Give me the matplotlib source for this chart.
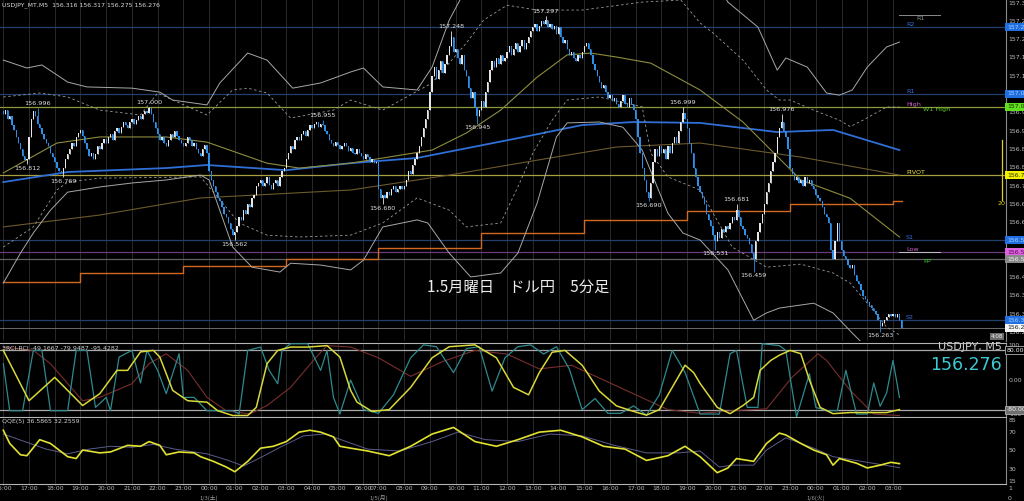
import matplotlib
matplotlib.use("Agg")
import matplotlib.pyplot as plt
import matplotlib.transforms as mtrans
import numpy as np

plt.rcParams['font.family'] = ['DejaVu Sans']
JP = ['Noto Sans CJK JP', 'DejaVu Sans']

W, H = 1024, 501

# ---------------- data ----------------
hour_labels = ["16:00", "17:00", "18:00", "19:00", "20:00", "21:00", "22:00", "23:00",
               "00:00", "01:00", "02:00", "03:00", "04:00", "05:00", "06:00",
               "07:00", "08:00", "09:00", "10:00", "11:00", "12:00", "13:00", "14:00",
               "15:00", "16:00", "17:00", "18:00", "19:00", "20:00", "21:00", "22:00",
               "23:00", "00:00", "01:00", "02:00", "03:00"]
hour_bar = [0, 12, 24, 36, 48, 60, 72, 84, 96, 108, 120, 132, 144, 156, 168,
            175, 187, 199, 211, 223, 235, 247, 259, 271, 283, 295, 307, 319, 331,
            343, 355, 367, 379, 391, 403, 415]
date_labels = ["1/3(土)", "1/5(月)", "1/6(火)"]
date_bar = [96, 175, 379]

first_open = 156.985
close_prices = [
    156.975, 156.990, 156.960, 156.970, 156.940, 156.925, 156.900, 156.880, 156.860, 156.840, 156.825, 156.830,
    156.900, 156.960, 156.985, 156.970, 156.945, 156.930, 156.910, 156.895, 156.880, 156.870, 156.850, 156.835,
    156.820, 156.800, 156.790, 156.785, 156.800, 156.830, 156.845, 156.860, 156.880, 156.870, 156.900, 156.915,
    156.925, 156.905, 156.880, 156.860, 156.840, 156.850, 156.830, 156.845, 156.870, 156.860, 156.880, 156.895,
    156.880, 156.900, 156.910, 156.890, 156.920, 156.930, 156.915, 156.935, 156.950, 156.940, 156.930, 156.950,
    156.960, 156.945, 156.955, 156.970, 156.960, 156.975, 156.985, 156.980, 156.995, 156.975, 156.950, 156.930,
    156.910, 156.890, 156.900, 156.880, 156.870, 156.890, 156.910, 156.900, 156.920, 156.905, 156.890, 156.880,
    156.870, 156.880, 156.900, 156.890, 156.870, 156.880, 156.860, 156.850, 156.840, 156.860, 156.875, 156.850,
    156.790, 156.760, 156.740, 156.720, 156.700, 156.690, 156.670, 156.650, 156.640, 156.620, 156.600, 156.580,
    156.590, 156.610, 156.640, 156.630, 156.660, 156.650, 156.680, 156.670, 156.700, 156.710, 156.740, 156.750,
    156.760, 156.740, 156.750, 156.770, 156.745, 156.730, 156.750, 156.760, 156.740, 156.770, 156.790, 156.800,
    156.830, 156.850, 156.870, 156.860, 156.890, 156.900, 156.890, 156.910, 156.920, 156.905, 156.925, 156.940,
    156.930, 156.945, 156.950, 156.935, 156.945, 156.940, 156.920, 156.910, 156.890, 156.880, 156.870, 156.885,
    156.875, 156.860, 156.870, 156.880, 156.870, 156.855, 156.865, 156.850, 156.845, 156.860, 156.850, 156.840,
    156.830, 156.845, 156.835, 156.820, 156.830, 156.815, 156.820,
    156.730, 156.700, 156.710, 156.700, 156.720, 156.710, 156.730, 156.740, 156.720, 156.730, 156.740, 156.730,
    156.740, 156.760, 156.790, 156.780, 156.810, 156.830, 156.850, 156.870, 156.900, 156.930, 156.960, 156.990,
    157.050, 157.100, 157.130, 157.090, 157.120, 157.150, 157.110, 157.140, 157.170, 157.200, 157.230, 157.180,
    157.190, 157.160, 157.140, 157.170, 157.120, 157.100, 157.060, 157.030, 157.050, 157.000, 156.970, 156.990,
    157.020, 157.000, 157.050, 157.080, 157.120, 157.150, 157.130, 157.160, 157.140, 157.170, 157.150, 157.160,
    157.180, 157.200, 157.170, 157.190, 157.210, 157.180, 157.200, 157.220, 157.190, 157.210, 157.230, 157.250,
    157.260, 157.270, 157.250, 157.265, 157.280, 157.270, 157.285, 157.260, 157.270, 157.255, 157.265, 157.240,
    157.260, 157.230, 157.210, 157.220, 157.190, 157.170, 157.180, 157.160, 157.150, 157.170, 157.160, 157.180,
    157.200, 157.210, 157.190, 157.170, 157.140, 157.120, 157.100, 157.080, 157.060, 157.070, 157.050, 157.030,
    157.040, 157.020, 157.030, 157.010, 157.000, 157.020, 157.040, 157.010, 157.000, 157.030, 157.010, 156.990,
    156.960, 156.900, 156.850, 156.800, 156.760, 156.720, 156.700, 156.750, 156.820, 156.860, 156.840, 156.870,
    156.850, 156.860, 156.830, 156.870, 156.850, 156.880, 156.900, 156.880, 156.920, 156.950, 156.980, 156.960,
    156.930, 156.880, 156.850, 156.800, 156.770, 156.740, 156.720, 156.700, 156.680, 156.650, 156.630, 156.610,
    156.580, 156.560, 156.590, 156.570, 156.600, 156.590, 156.610, 156.600, 156.620, 156.640, 156.630, 156.660,
    156.640, 156.610, 156.600, 156.580, 156.570, 156.550, 156.520, 156.500, 156.560, 156.590, 156.620, 156.650,
    156.680, 156.720, 156.750, 156.790, 156.820, 156.850, 156.900, 156.930, 156.950, 156.920, 156.900, 156.860,
    156.800, 156.780, 156.760, 156.770, 156.750, 156.760, 156.740, 156.770, 156.750, 156.760, 156.740, 156.730,
    156.710, 156.700, 156.690, 156.670, 156.650, 156.640, 156.620, 156.530, 156.500, 156.560, 156.620, 156.560,
    156.530, 156.510, 156.500, 156.480, 156.470, 156.480, 156.450, 156.430, 156.420, 156.400, 156.380, 156.370,
    156.360, 156.350, 156.340, 156.330, 156.320, 156.300, 156.280, 156.290, 156.300, 156.310, 156.320, 156.315,
    156.320, 156.310, 156.320, 156.300, 156.276,
]

# labelled swing highs / lows: (bar, price, kind)
swing_bar = [11, 16, 28, 68, 108, 149, 177, 209, 221, 253, 301, 317, 332, 342, 350, 363, 409]
swing_price = [156.812, 156.996, 156.769, 157.000, 156.562, 156.955, 156.680, 157.248, 156.945,
               157.297, 156.690, 156.999, 156.531, 156.681, 156.459, 156.976, 156.263]
swing_kind = ["L", "H", "L", "H", "L", "H", "L", "H", "L", "H", "L", "H", "L", "H", "L", "H", "L"]

# moving averages / bands  (bar, price)
ma_blue_bar = [0, 30, 76, 95, 132, 162, 193, 240, 270, 294, 325, 361, 387, 418]
ma_blue_val = [156.753, 156.786, 156.799, 156.809, 156.792, 156.815, 156.832, 156.897, 156.940,
               156.950, 156.947, 156.917, 156.924, 156.858]
ma_olive_bar = [0, 25, 45, 76, 95, 123, 138, 162, 200, 216, 232, 249, 263, 274, 286, 302, 325, 345, 372, 395, 418]
ma_olive_val = [156.783, 156.881, 156.901, 156.901, 156.884, 156.815, 156.799, 156.815, 156.858, 156.914,
                156.989, 157.097, 157.170, 157.176, 157.163, 157.143, 157.055, 156.950, 156.760, 156.700, 156.573]
ma_brown_bar = [0, 45, 92, 162, 208, 255, 286, 325, 372, 418]
ma_brown_val = [156.606, 156.645, 156.701, 156.727, 156.776, 156.832, 156.868, 156.881, 156.835, 156.776]
step_start_bar = [0, 36, 84, 132, 175, 223, 271, 319, 367, 415]
step_val = [156.425, 156.455, 156.478, 156.501, 156.537, 156.586, 156.629, 156.658, 156.681, 156.691]

bb_up_bar = [0, 11, 18, 30, 39, 60, 73, 79, 95, 101, 114, 123, 135, 148, 162, 168, 177, 193, 200, 208,
             213, 225, 250, 280, 310, 333, 338, 352, 361, 365, 375, 384, 390, 396, 403, 412, 418]
bb_up_val = [157.153, 157.127, 157.137, 157.081, 157.065, 157.061, 157.048, 157.022, 157.006, 157.078,
             157.176, 157.153, 157.061, 157.078, 157.114, 157.127, 157.065, 157.055, 157.130, 157.284,
             157.350, 157.480, 157.600, 157.620, 157.550, 157.400, 157.343, 157.261, 157.120, 157.160,
             157.130, 157.045, 157.038, 157.055, 157.130, 157.196, 157.212]
bb_lo_bar = [0, 8, 14, 22, 30, 45, 60, 76, 92, 96, 107, 116, 129, 134, 148, 162, 168, 177, 193, 198,
             208, 218, 232, 240, 249, 258, 263, 278, 289, 298, 310, 317, 325, 338, 350, 356, 362, 378,
             387, 396, 404, 418]
bb_lo_val = [156.422, 156.520, 156.586, 156.661, 156.720, 156.737, 156.750, 156.760, 156.776, 156.760,
             156.540, 156.474, 156.458, 156.487, 156.481, 156.465, 156.497, 156.606, 156.629, 156.619,
             156.520, 156.442, 156.455, 156.520, 156.684, 156.901, 156.947, 156.950, 156.933, 156.858,
             156.651, 156.586, 156.563, 156.465, 156.300, 156.324, 156.340, 156.356, 156.324, 156.258,
             156.202, 156.104]
bbd_up_bar = [0, 17, 30, 45, 64, 72, 79, 95, 107, 114, 123, 134, 154, 162, 177, 200, 216, 224, 235,
              249, 270, 298, 316, 325, 331, 345, 356, 362, 367, 378, 390, 395, 401, 412, 418]
bbd_up_val = [157.032, 157.045, 157.032, 156.989, 156.973, 157.045, 157.022, 156.973, 157.055, 157.061,
              157.045, 156.963, 156.989, 157.022, 156.989, 157.078, 157.209, 157.284, 157.333, 157.317,
              157.317, 157.343, 157.350, 157.275, 157.242, 157.153, 157.055, 157.022, 157.022, 156.989,
              156.956, 156.935, 156.956, 156.999, 156.999]
bbd_lo_bar = [0, 14, 25, 30, 45, 92, 100, 110, 123, 138, 162, 177, 193, 208, 216, 232, 240, 247, 256,
              263, 278, 298, 302, 310, 325, 340, 356, 372, 387, 395, 403, 412, 418]
bbd_lo_val = [156.540, 156.606, 156.727, 156.753, 156.766, 156.770, 156.704, 156.619, 156.579, 156.573,
              156.579, 156.619, 156.701, 156.661, 156.606, 156.619, 156.737, 156.848, 156.956, 157.022,
              157.032, 157.000, 156.848, 156.770, 156.727, 156.540, 156.474, 156.484, 156.455, 156.422,
              156.356, 156.278, 156.252]

# pivot levels
pivot_names = ["R2", "R1", "W1 High", "PIVOT", "S1", "Low", "PP", "S2"]
pivot_vals = [157.261, 157.042, 157.000, 156.776, 156.563, 156.523, 156.500, 156.300]
bid_price = 156.276

# RCI (bar, value)
rci_fast_bar = [0, 3, 9, 14, 18, 22, 30, 34, 39, 43, 48, 50, 54, 60, 64, 67, 72, 76, 82, 84, 89, 95, 107,
                110, 114, 120, 124, 128, 130, 134, 142, 148, 151, 154, 157, 162,
                168, 175, 182, 190, 196, 202, 210, 216, 222, 228, 234, 240, 246, 252, 258, 264, 270,
                276, 282, 288, 294, 300, 306, 312, 318,
                325, 334, 339, 342, 347, 352, 354, 362, 365, 370, 376, 379, 384, 389, 393, 398, 403,
                406, 409, 412, 415, 418]
rci_fast_val = [44, -83, -83, 80, 80, -83, -83, 80, 80, -74, -47, -83, 62, 80, -8, 80, 26, -37, 71, -47, -47,
                -83, -83, -92, 80, 89, 26, -10, 80, 98, 98, 26, 80, -47, -92, 0,
                -80, -90, -40, 60, 95, 90, 20, 85, 90, -30, 60, 90, 95, 70, 90, 30, -80,
                -50, -90, -90, -70, -95, -40, 80, 20,
                -92, -92, 71, 80, -74, -74, 98, 93, 80, -100, 17, -74, -83, -83, 26, -92, -92,
                -8, -71, -35, 53, -47]
rci_mid_bar = [0, 12, 24, 37, 45, 53, 58, 64, 70, 73, 79, 86, 95, 100, 107, 114, 118, 123, 128, 134, 142,
               151, 157, 162, 165, 172, 180, 190, 200, 208, 220, 230, 238, 245, 250, 256, 262, 270, 278,
               286, 294, 300, 306, 312, 318, 322,
               325, 333, 339, 345, 350, 353, 358, 362, 367, 372, 376, 381, 387, 395, 403, 412, 418]
rci_mid_val = [80, -56, 7, -69, -37, 26, 26, 76, 80, 62, -28, -56, -60, -83, -96, -96, -74, 44, 80, 89, 89,
               93, 62, -28, -60, -85, -80, -20, 60, 90, 95, 60, -20, -40, 20, 75, 80, 40, -30,
               -70, -85, -95, -80, -20, 40, 20,
               -9, -74, -91, -69, -47, 26, 53, 67, 80, 71, 0, -74, -91, -88, -88, -88, -80]
rci_slow_bar = [0, 14, 22, 37, 45, 60, 68, 76, 86, 95, 104, 115, 123, 134, 146, 151, 162,
                175, 190, 205, 220, 235, 250, 265, 280, 295, 310,
                325, 340, 356, 368, 380, 384, 395, 406, 418]
rci_slow_val = [89, 80, 44, -56, -47, -10, 44, 71, 26, -47, -83, -92, -69, -20, 62, 93, 89,
                60, 10, 50, 80, 70, 30, 40, 0, -40, -80,
                -90, -83, -78, 8, 71, 53, -28, -92, -96]

# QQE (bar, value)
qqe_bar = [0, 3, 8, 11, 17, 22, 30, 34, 37, 45, 50, 58, 64, 68, 73, 76, 82, 89, 92, 98, 104, 108, 114,
           120, 126, 132, 138, 143, 148, 154, 157, 162,
           170, 180, 190, 200, 210, 220, 230, 240, 250, 260, 270, 280, 290, 300, 310, 318,
           325, 333, 338, 342, 350, 356, 362, 365, 372, 378, 384, 387, 390, 398, 403, 409, 414, 418]
qqe_val = [72, 58, 46, 45, 62, 58, 44, 42, 51, 48, 49, 56, 55, 60, 56, 46, 49, 48, 44, 39, 33, 28, 39,
           53, 55, 60, 70, 72, 70, 65, 55, 53,
           50, 45, 55, 68, 75, 60, 55, 62, 70, 72, 65, 55, 52, 40, 45, 55,
           44, 27, 32, 42, 39, 58, 69, 67, 58, 51, 46, 35, 42, 37, 32, 35, 38, 36.6]
qqe_sig_bar = [0, 10, 20, 30, 40, 50, 60, 70, 80, 95, 105, 112, 120, 130, 140, 150, 160,
               170, 185, 200, 212, 225, 240, 255, 270, 285, 300, 315,
               325, 334, 340, 350, 356, 365, 378, 387, 403, 418]
qqe_sig_val = [68, 60, 52, 47, 52, 55, 54, 57, 52, 47, 40, 34, 43, 55, 66, 68, 60,
               52, 50, 60, 70, 62, 60, 68, 66, 56, 48, 48,
               50, 33, 35, 35, 51, 64, 53, 44, 38, 32.3]

# ---------------- figure ----------------
fig = plt.figure(figsize=(W / 100, H / 100), dpi=100, facecolor='black')


def axes_px(x0, y0, x1, y1):
    return fig.add_axes([x0 / W, 1 - y1 / H, (x1 - x0) / W, (y1 - y0) / H], facecolor='black')


XL = (-1.54, 467.7)
ax = axes_px(0, 0, 1006, 341)
ax_r = axes_px(0, 343, 1006, 417)
ax_q = axes_px(0, 418, 1006, 484)

GRID = '#303030'
for a in (ax, ax_r, ax_q):
    a.set_xlim(*XL)
    for s in a.spines.values():
        s.set_visible(False)
    a.spines['right'].set_visible(True)
    a.spines['right'].set_color('#8a8a8a')
    a.spines['right'].set_linewidth(0.8)
    a.tick_params(left=False, labelleft=False, bottom=False, labelbottom=False, right=False, labelright=False)
    for hb in hour_bar:
        a.axvline(hb, color=GRID, lw=0.6, zorder=0)

ax.set_ylim(156.232, 157.350)
ax_r.set_ylim(-100, 100)
ax_q.set_ylim(15, 85)

ax_r.spines['top'].set_visible(True)
ax_r.spines['top'].set_color('#b4b4b4')
ax_r.spines['bottom'].set_visible(True)
ax_r.spines['bottom'].set_color('#b4b4b4')
ax_q.spines['bottom'].set_visible(True)
ax_q.spines['bottom'].set_color('#b4b4b4')

# ---------------- candles ----------------
closes = np.array(close_prices)
opens = np.concatenate([[first_open], closes[:-1]])
highs = np.maximum(opens, closes)
lows = np.minimum(opens, closes)
for b, p, k in zip(swing_bar, swing_price, swing_kind):
    if k == "H":
        highs[b] = p
    else:
        lows[b] = p
bars = np.arange(len(closes))
up = closes >= opens
col = np.where(up, '#e6e6e6', '#2e8fe8')
ax.vlines(bars, lows, highs, colors=col, lw=0.6, zorder=4)
body_h = np.maximum(np.abs(closes - opens), 0.0015)
ax.bar(bars, body_h, bottom=np.minimum(opens, closes), width=0.6, color=col, zorder=5, linewidth=0)

for b, p, k in zip(swing_bar, swing_price, swing_kind):
    ax.annotate(f"{p:.3f}", (b, p), xytext=(0, 1.5 if k == "H" else -1.2), textcoords='offset points',
                ha='center', va='bottom' if k == "H" else 'top', fontsize=4.6, color='#e0e0e0', zorder=8)

# ---------------- indicator lines ----------------
ax.plot(ma_blue_bar, ma_blue_val, color='#2f6fd6', lw=1.3, zorder=3)
ax.plot(ma_olive_bar, ma_olive_val, color='#8e8c3e', lw=0.8, zorder=3)
ax.plot(ma_brown_bar, ma_brown_val, color='#6c5a2c', lw=0.8, zorder=3)
step_x = step_start_bar + [419]
step_y = step_val + [step_val[-1]]
ax.step(step_x, step_y, where='post', color='#d2691e', lw=1.0, zorder=3)
ax.plot(bb_up_bar, bb_up_val, color='#a8a8a8', lw=0.7, zorder=3)
ax.plot(bb_lo_bar, bb_lo_val, color='#a8a8a8', lw=0.7, zorder=3)
ax.plot(bbd_up_bar, bbd_up_val, color='#9a9a9a', lw=0.6, ls=(0, (3, 3)), zorder=3)
ax.plot(bbd_lo_bar, bbd_lo_val, color='#9a9a9a', lw=0.6, ls=(0, (3, 3)), zorder=3)

# pivot lines
pivot_line_col = ['#22406e', '#22406e', '#8c9a3a', '#a8a040', '#22406e', '#6a3a7a', '#606060', '#22406e']
pivot_txt_col = ['#3a6ee0', '#3a6ee0', '#5ed02a', '#e8e040', '#3a6ee0', '#d060d0', '#3cc03c', '#3a6ee0']
for name, v, lc, tc in zip(pivot_names, pivot_vals, pivot_line_col, pivot_txt_col):
    ax.axhline(v, color=lc, lw=0.9, zorder=1)
    xb = 429 if name in ("W1 High", "PP") else 421
    va = 'top' if name in ("W1 High", "PP") else 'bottom'
    ax.text(xb, v, name, color=tc, fontsize=4.6, ha='left', va=va, zorder=6)
ax.text(421, 157.000, "High", color='#d060d0', fontsize=4.6, ha='left', va='bottom', zorder=6)
ax.axhline(bid_price, color='#6a6a6a', lw=0.7, zorder=1)
ax.plot([418, 437], [157.301, 157.301], color='#8a8a8a', lw=0.7)
ax.text(428, 157.298, "R1", color='#8a8a8a', fontsize=4.6, ha='center', va='top')
ax.plot([418, 437], [156.523, 156.523], color='#c0c0c0', lw=0.7)
ax.plot([465.8, 465.8], [156.694, 156.891], color='#e0d020', lw=0.9, clip_on=False)
ax.text(465.8, 156.690, "20", color='#e0d020', fontsize=4.6, ha='center', va='top')
# candle countdown tag near the bottom right of the price panel
ax.text(463.5, 156.246, "4:08", color='#f0f0f0', fontsize=4.0, ha='center', va='center', zorder=9,
        bbox=dict(boxstyle='square,pad=0.2', fc='#6a6a6a', ec='none'))

# price axis labels
price_ticks = [157.340, 157.280, 157.220, 157.160, 157.100, 156.980, 156.920, 156.860, 156.800,
               156.740, 156.680, 156.620, 156.440, 156.380, 156.320, 156.260]
tr_main = mtrans.blended_transform_factory(ax.transAxes, ax.transData)
for p in price_ticks:
    ax.text(1.0025, p, f"{p:.3f}", transform=tr_main, fontsize=4.4, color='#bdbdbd', ha='left', va='center',
            clip_on=False)
box_vals = [157.261, 157.042, 157.000, 156.776, 156.563, 156.523, 156.500, 156.300, bid_price]
box_fc = ['#1f6fe0', '#1f6fe0', '#5ee01e', '#f0f000', '#1f6fe0', '#e060e0', '#8a8a8a', '#1f6fe0', '#f4f4f4']
box_tc = ['#a8c8ff', '#a8c8ff', '#203000', '#303000', '#a8c8ff', '#501050', '#f0f0f0', '#a8c8ff', '#202020']
for v, fc, tc in zip(box_vals, box_fc, box_tc):
    ax.text(1.001, v, f"{v:.3f}", transform=tr_main, fontsize=4.4, color=tc, ha='left', va='center',
            clip_on=False, zorder=9,
            bbox=dict(boxstyle='square,pad=0.25', fc=fc, ec='none'))

# ---------------- RCI ----------------
ax_r.axhline(80, color='#a8a8a8', lw=0.9, zorder=1)
ax_r.axhline(-80, color='#a8a8a8', lw=0.9, zorder=1)
ax_r.plot(rci_slow_bar, rci_slow_val, color='#7a2e2e', lw=0.8, zorder=2)
ax_r.plot(rci_fast_bar, rci_fast_val, color='#2e8a8e', lw=0.9, zorder=3)
ax_r.plot(rci_mid_bar, rci_mid_val, color='#d8d838', lw=1.1, zorder=4)
tr_r = mtrans.blended_transform_factory(ax_r.transAxes, ax_r.transData)
ax_r.text(1.0025, 100, "100", transform=tr_r, fontsize=4.2, color='#bdbdbd', ha='left', va='top', clip_on=False)
ax_r.text(1.0025, 0, "0.00", transform=tr_r, fontsize=4.4, color='#bdbdbd', ha='left', va='center', clip_on=False)
ax_r.text(1.0025, -100, "-100", transform=tr_r, fontsize=4.2, color='#bdbdbd', ha='left', va='bottom', clip_on=False)
ax_r.text(1.001, 80, "80.0000", transform=tr_r, fontsize=4.4, color='#f0f0f0', ha='left', va='center',
          clip_on=False, bbox=dict(boxstyle='square,pad=0.25', fc='#000000', ec='#b0b0b0', lw=0.6))
ax_r.text(1.001, -80, "-80.000", transform=tr_r, fontsize=4.4, color='#f0f0f0', ha='left', va='center',
          clip_on=False, bbox=dict(boxstyle='square,pad=0.25', fc='#707070', ec='#b0b0b0', lw=0.6))
ax_r.text(0.002, 0.93, "3RCI-RCI -49.1667 -79.9487 -95.4282", transform=ax_r.transAxes, fontsize=4.5,
          color='#d0d0d0', ha='left', va='center')
ax_r.text(0.9955, 0.94, "USDJPY, M5", transform=ax_r.transAxes, fontsize=8, color='#cfcfcf',
          ha='right', va='center')
ax_r.text(0.9955, 0.70, "156.276", transform=ax_r.transAxes, fontsize=12.5, color='#3ec8d2',
          ha='right', va='center')

# ---------------- QQE ----------------
ax_q.plot(qqe_sig_bar, qqe_sig_val, color='#5c5c8c', lw=0.7, zorder=2)
ax_q.plot(qqe_bar, qqe_val, color='#e2e232', lw=1.2, zorder=3)
tr_q = mtrans.blended_transform_factory(ax_q.transAxes, ax_q.transData)
for v, va in zip([85, 70, 50, 30, 15], ['top', 'center', 'center', 'center', 'bottom']):
    ax_q.text(1.0025, v, str(v), transform=tr_q, fontsize=4.4, color='#bdbdbd', ha='left', va=va, clip_on=False)
ax_q.text(0.002, 0.95, "QQE(5) 36.5865 32.2559", transform=ax_q.transAxes, fontsize=4.5,
          color='#d0d0d0', ha='left', va='center')
fig.text(1008 / W, 1 - 489 / H, "1", fontsize=4.4, color='#bdbdbd', ha='left', va='center')
fig.text(1008 / W, 1 - 498 / H, "0", fontsize=4.4, color='#bdbdbd', ha='left', va='center')

# time axis
ax_q.set_xticks(hour_bar)
ax_q.set_xticklabels(hour_labels)
ax_q.tick_params(bottom=True, labelbottom=True, length=1.0, width=0.5, color='#8a8a8a',
                 labelsize=4.4, labelcolor='#bdbdbd', pad=0.6)
tr_t = mtrans.blended_transform_factory(ax_q.transData, ax_q.transAxes)
for b, s in zip(date_bar, date_labels):
    ax_q.text(b, -0.205, s, transform=tr_t, fontsize=4.2, color='#9a9a9a', ha='center', va='center',
              family=JP, clip_on=False)

# header + title
ax.text(0.002, 0.985, "USDJPY_MT,M5  156.316 156.317 156.275 156.276", transform=ax.transAxes,
        fontsize=4.5, color='#d8d8d8', ha='left', va='center')
ax.text(0.515, 0.156, "1.5月曜日　ドル円　5分足", transform=ax.transAxes, fontsize=11,
        color='#ececec', ha='center', va='center', family=JP, zorder=9)

fig.savefig("out.png", dpi=100, facecolor='black')
